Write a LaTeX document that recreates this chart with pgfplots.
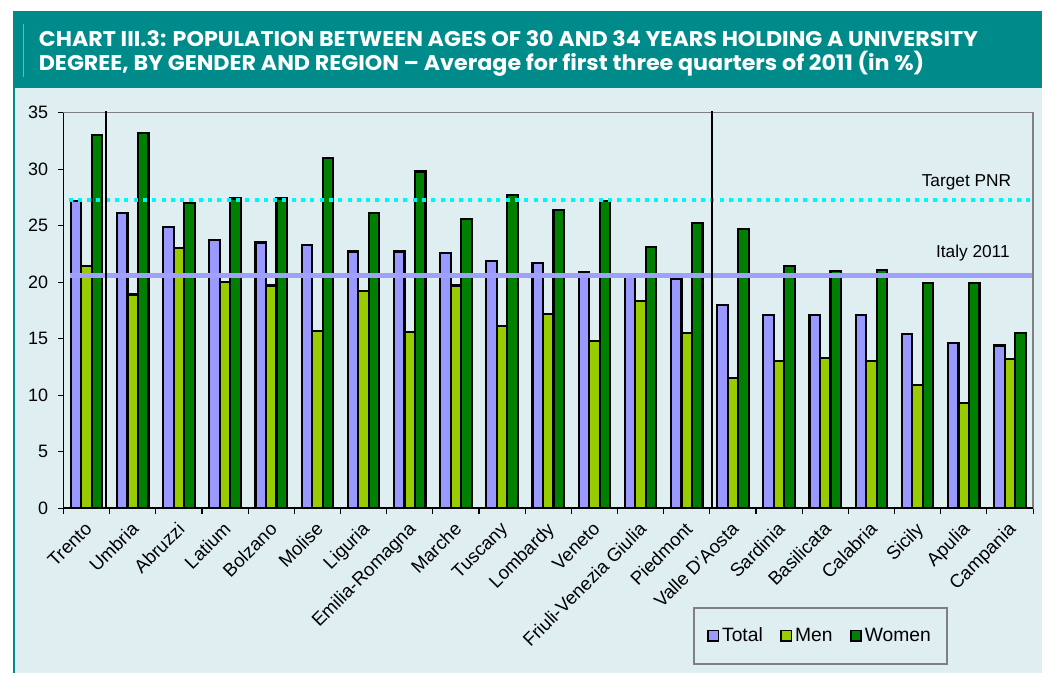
\documentclass[border=0pt]{standalone}
\usepackage{fontspec}
\setmainfont{Liberation Sans}
\newfontfamily\titlefont{Poppins}
\usepackage{pgfplots}
\pgfplotsset{compat=1.18}
\usepackage{pgfplotstable}

\definecolor{bandteal}{RGB}{0,139,139}
\definecolor{bgblue}{RGB}{222,238,241}
\definecolor{totalc}{RGB}{153,153,255}
\definecolor{menc}{RGB}{153,204,0}
\definecolor{womenc}{RGB}{0,128,0}
\definecolor{targetc}{RGB}{0,245,245}
\definecolor{italyc}{RGB}{160,160,255}

% region, total, men, women (in %)
\pgfplotstableread{
x total men women
0 27.2 21.4 33.0
1 26.1 18.9 33.2
2 24.9 23.0 27.0
3 23.7 20.0 27.4
4 23.5 19.7 27.4
5 23.3 15.7 31.0
6 22.7 19.2 26.1
7 22.7 15.6 29.8
8 22.6 19.7 25.6
9 21.9 16.1 27.7
10 21.7 17.2 26.4
11 20.9 14.8 27.2
12 20.5 18.3 23.1
13 20.3 15.5 25.2
14 18.0 11.5 24.7
15 17.1 13.0 21.4
16 17.1 13.3 21.0
17 17.1 13.0 21.1
18 15.4 10.9 19.9
19 14.6 9.3 19.9
20 14.4 13.2 15.5
}\data

\newsavebox\lineone
\newsavebox\linetwo
\sbox\lineone{\color{white}\titlefont\bfseries\fontsize{16}{20}\selectfont CHART III.3: POPULATION BETWEEN AGES OF 30 AND 34 YEARS HOLDING A UNIVERSITY}
\sbox\linetwo{\color{white}\titlefont\bfseries\fontsize{16}{20}\selectfont DEGREE, BY GENDER AND REGION – Average for first three quarters of 2011 (in \%)}

\pgfplotsset{
  barstyle/.style={ybar, bar width=7.9pt, line width=1.7pt, draw=black,
    legend image code/.code={\draw[##1, line width=1.3pt] (0pt,-4pt) rectangle (8pt,4pt);}},
}

\begin{document}
\pgfmathsetmacro\sx{707/\wd\lineone*1pt}
\begin{tikzpicture}
\begin{scope}[x=0.75pt,y=0.75pt]
\useasboundingbox (0,0) rectangle (1042,675);
\fill[white] (0,0) rectangle (1042,675);
\fill[bandteal] (9,587) rectangle (1042,664);
\fill[bgblue] (9,0) rectangle (1042,587);
\fill[bandteal] (9,0) rectangle (11.5,587);
\draw[bandteal!60!white, line width=0.6pt] (19.5,598) -- (19.5,651);
\node[anchor=base west, inner sep=0pt] at (35,628.5) {\scalebox{\sx}[1]{\usebox\lineone}};
\node[anchor=base west, inner sep=0pt] at (35,604) {\scalebox{\sx}[1]{\usebox\linetwo}};
\end{scope}
\begin{axis}[
  at={(45pt,123.75pt)}, anchor=south west,
  scale only axis, width=729.75pt, height=297.75pt,
  xmin=-0.5, xmax=20.5, ymin=0, ymax=35,
  clip=false,
  axis line style={draw=gray, line width=1.2pt},
  tick align=outside, xtick pos=bottom, ytick pos=left,
  major tick length=4pt,
  tick style={black, line width=0.8pt},
  xtick={-0.5,0.5,...,20.5}, xticklabels={},
  ytick={0,5,...,35},
  /pgf/number format/assume math mode=true,
  ticklabel style={font=\fontsize{13.5}{16}\selectfont},
  yticklabel style={xshift=-4pt},
  extra x ticks={0,1,...,20},
  extra x tick labels={Trento,Umbria,Abruzzi,Latium,Bolzano,Molise,Liguria,Emilia-Romagna,Marche,Tuscany,Lombardy,Veneto,Friuli-Venezia Giulia,Piedmont,Valle D'Aosta,Sardinia,Basilicata,Calabria,Sicily,Apulia,Campania},
  extra x tick style={major tick length=0pt,
    xticklabel style={xshift=-2pt, yshift=-8pt, rotate=45, anchor=north east, inner sep=1pt, font=\fontsize{14}{16}\selectfont}},
  legend columns=3,
  legend style={at={(0.7806,-0.2494)}, anchor=north, draw=gray, line width=1.5pt,
    fill=bgblue, font=\fontsize{14.5}{17}\selectfont, inner xsep=10pt, inner ysep=13pt,
    /tikz/every even column/.append style={column sep=11pt}},
]
\addplot[barstyle, bar shift=-7.9pt, fill=totalc] table[x=x, y=total] {\data};
\addplot[barstyle, bar shift=0pt, fill=menc] table[x=x, y=men] {\data};
\addplot[barstyle, bar shift=7.9pt, fill=womenc] table[x=x, y=women] {\data};
\legend{Total,Men,Women}
% reference lines
\addplot[forget plot, sharp plot, targetc, line width=3pt, dash pattern=on 3pt off 4pt] coordinates {(-0.39,27.3) (20.5,27.3)};
\addplot[forget plot, sharp plot, italyc, line width=3.5pt] coordinates {(-0.36,20.6) (20.47,20.6)};
\addplot[forget plot, sharp plot, black, line width=1.5pt] coordinates {(0.43,0) (0.43,35.15)};
\addplot[forget plot, sharp plot, black, line width=1.5pt] coordinates {(13.55,0) (13.55,35.15)};
% axis lines left and bottom in black
\draw[black, line width=1.1pt] (rel axis cs:0,1) -- (rel axis cs:0,0) -- (rel axis cs:1,0);
\node[anchor=base east, inner sep=0pt, font=\fontsize{13}{15}\selectfont] at (axis cs:20.03,28.48) {Target PNR};
\node[anchor=base east, inner sep=0pt, font=\fontsize{13}{15}\selectfont] at (axis cs:20.0,22.2) {Italy 2011};
\end{axis}
\end{tikzpicture}
\end{document}
